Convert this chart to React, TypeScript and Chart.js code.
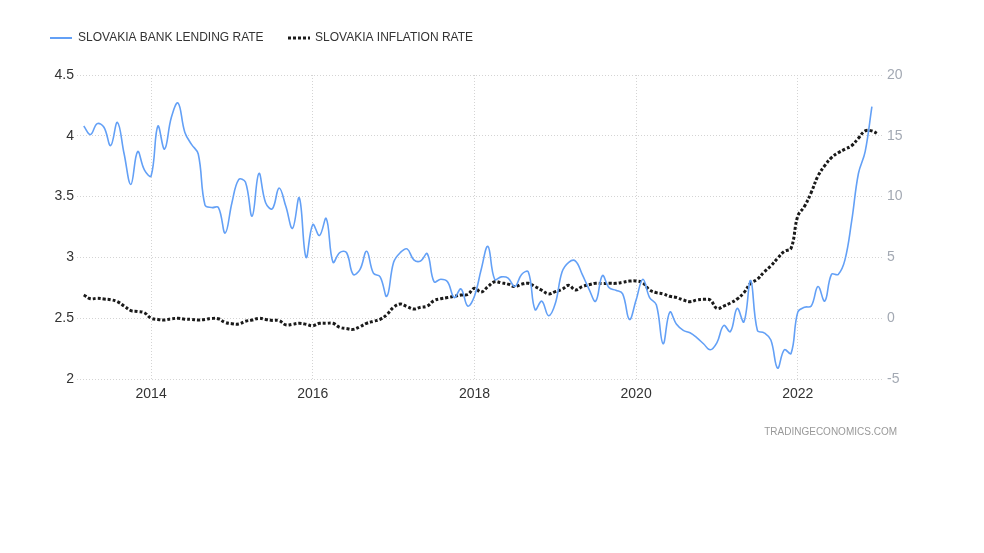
import React, { useEffect, useRef } from "react";
import { Chart, registerables } from "chart.js";

Chart.register(...registerables);

// Month index 0 = Jan 2013; both series start in Mar 2013 (index 2)
const firstMonth = 2;
const yearTicks = [2014, 2016, 2018, 2020, 2022];
const seriesNames = ["SLOVAKIA BANK LENDING RATE", "SLOVAKIA INFLATION RATE"];
const leftTicks = [2, 2.5, 3, 3.5, 4, 4.5];
const rightTicks = [-5, 0, 5, 10, 15, 20];

const lendingRate = [
  4.08, 4.01, 4.1, 4.07, 3.92, 4.11, 3.85, 3.6, 3.87, 3.72, 3.67, 4.08,
  3.89, 4.15, 4.27, 4.03, 3.93, 3.85, 3.43, 3.41, 3.41, 3.2, 3.45, 3.64,
  3.62, 3.34, 3.69, 3.45, 3.4, 3.57, 3.42, 3.24, 3.49, 3.0, 3.27, 3.18,
  3.32, 2.96, 3.04, 3.04, 2.86, 2.9, 3.05, 2.87, 2.84, 2.68, 2.96, 3.04,
  3.07, 2.98, 2.97, 3.03, 2.8, 2.82, 2.8, 2.67, 2.74, 2.6, 2.68, 2.9,
  3.09, 2.82, 2.84, 2.83, 2.76, 2.86, 2.88, 2.57, 2.64, 2.52, 2.62, 2.88,
  2.96, 2.97, 2.86, 2.74, 2.64, 2.85, 2.75, 2.73, 2.7, 2.49, 2.65, 2.82,
  2.67, 2.61, 2.29, 2.55, 2.45, 2.4, 2.38, 2.34, 2.29, 2.24, 2.3, 2.44,
  2.39, 2.58, 2.47, 2.81, 2.4, 2.38, 2.32, 2.09, 2.24, 2.21, 2.55, 2.59,
  2.6, 2.76, 2.64, 2.86, 2.86, 2.98, 3.3, 3.69, 3.87, 4.24,
];

const inflationRate = [
  1.91, 1.6, 1.64, 1.58, 1.52, 1.36, 1.0, 0.62, 0.55, 0.45, 0.0, -0.1,
  -0.15, -0.05, -0.01, -0.08, -0.1, -0.15, -0.1, -0.02, -0.05, -0.35, -0.45, -0.48,
  -0.25, -0.15, -0.01, -0.1, -0.18, -0.2, -0.55, -0.5, -0.42, -0.5, -0.62, -0.42,
  -0.42, -0.42, -0.75, -0.85, -0.92, -0.7, -0.42, -0.25, -0.09, 0.3, 0.9, 1.17,
  0.95, 0.75, 0.9, 1.0, 1.45, 1.6, 1.7, 1.8, 1.91, 1.95, 2.46, 2.15,
  2.6, 3.0, 2.9, 2.8, 2.6, 2.8, 2.87, 2.6, 2.3, 2.0, 2.18, 2.38,
  2.7, 2.32, 2.6, 2.75, 2.87, 2.85, 2.87, 2.87, 2.95, 3.05, 3.06, 2.9,
  2.32, 2.1, 2.0, 1.8, 1.7, 1.5, 1.36, 1.5, 1.55, 1.5, 0.8, 1.0,
  1.25, 1.58, 2.1, 2.87, 3.2, 3.8, 4.3, 4.93, 5.5, 5.75, 8.4, 9.2,
  10.35, 11.7, 12.55, 13.2, 13.6, 13.9, 14.19, 14.8, 15.4, 15.4, 15.12,
];

const BLUE = "rgb(99,160,246)";
const BLACK = "#1a1a1a";
const FONT = "'Liberation Sans', Arial, sans-serif";

const toPoints = (arr: number[]) =>
  arr.map((v, i) => ({ x: firstMonth + i, y: v }));

const legendPlugin = {
  id: "teLegend",
  afterDraw(chart: any) {
    const ctx = chart.ctx;
    ctx.save();
    const y = 38;
    ctx.strokeStyle = BLUE;
    ctx.lineWidth = 2;
    ctx.setLineDash([]);
    ctx.beginPath();
    ctx.moveTo(50, y);
    ctx.lineTo(72, y);
    ctx.stroke();
    ctx.strokeStyle = BLACK;
    ctx.lineWidth = 3;
    ctx.setLineDash([3, 2]);
    ctx.beginPath();
    ctx.moveTo(288, y);
    ctx.lineTo(310, y);
    ctx.stroke();
    ctx.setLineDash([]);
    ctx.fillStyle = "#333";
    ctx.font = `12px ${FONT}`;
    ctx.textBaseline = "middle";
    ctx.textAlign = "left";
    ctx.fillText(seriesNames[0], 78, y);
    ctx.fillText(seriesNames[1], 315, y);
    ctx.fillStyle = "#999";
    ctx.font = `10px ${FONT}`;
    ctx.textAlign = "right";
    ctx.fillText("TRADINGECONOMICS.COM", 897, 432);
    ctx.restore();
  },
};

export default function App() {
  const ref = useRef<HTMLCanvasElement | null>(null);

  useEffect(() => {
    if (!ref.current) return;
    const chart = new Chart(ref.current, {
      type: "line",
      data: {
        datasets: [
          {
            label: seriesNames[0],
            data: toPoints(lendingRate),
            borderColor: BLUE,
            borderWidth: 1.6,
            pointRadius: 0,
            tension: 0.4,
            yAxisID: "y",
            fill: false,
          },
          {
            label: seriesNames[1],
            data: toPoints(inflationRate),
            borderColor: BLACK,
            borderWidth: 3,
            borderDash: [3, 2],
            pointRadius: 0,
            tension: 0.4,
            yAxisID: "y1",
            fill: false,
          },
        ],
      },
      options: {
        animation: false,
        responsive: false,
        events: [],
        layout: { padding: { top: 75, left: 0, right: 0, bottom: 0 } },
        plugins: { legend: { display: false }, tooltip: { enabled: false } },
        scales: {
          x: {
            type: "linear",
            min: 1,
            max: 120.5,
            afterBuildTicks: (scale: any) => {
              scale.ticks = yearTicks.map((yr) => ({ value: (yr - 2013) * 12 }));
            },
            afterFit: (scale: any) => {
              scale.height = 553 - 379;
            },
            ticks: {
              callback: (v: any) => String(2013 + Number(v) / 12),
              color: "#333",
              font: { family: FONT, size: 14 },
              padding: 7,
              maxRotation: 0,
              autoSkip: false,
            },
            grid: { color: "#d4d4d4", drawTicks: false, lineWidth: 1 },
            border: { display: false, dash: [1, 2] },
          },
          y: {
            position: "left",
            min: 2,
            max: 4.5,
            afterBuildTicks: (scale: any) => {
              scale.ticks = leftTicks.map((v) => ({ value: v }));
            },
            afterFit: (scale: any) => {
              scale.width = 77;
            },
            ticks: {
              callback: (v: any) => String(v),
              color: "#333",
              font: { family: FONT, size: 14 },
              padding: 3,
            },
            grid: { color: "#d4d4d4", drawTicks: false, lineWidth: 1 },
            border: { display: false, dash: [1, 2] },
          },
          y1: {
            position: "right",
            min: -5,
            max: 20,
            afterBuildTicks: (scale: any) => {
              scale.ticks = rightTicks.map((v) => ({ value: v }));
            },
            afterFit: (scale: any) => {
              scale.width = 984 - 882;
            },
            ticks: {
              callback: (v: any) => String(v),
              color: "#a3a9b3",
              font: { family: FONT, size: 14 },
              padding: 5,
            },
            grid: { display: false, drawTicks: false },
            border: { display: false },
          },
        },
      },
      plugins: [legendPlugin],
    } as any);
    return () => chart.destroy();
  }, []);

  return (
    <div style={{ position: "fixed", left: 0, top: 0, width: 984, height: 553, background: "#fff" }}>
      <canvas ref={ref} width={984} height={553} style={{ display: "block" }} />
    </div>
  );
}
